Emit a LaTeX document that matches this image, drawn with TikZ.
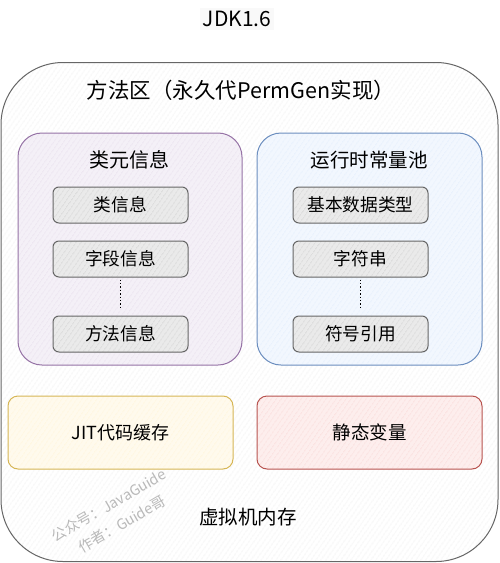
\documentclass[tikz,border=0pt]{standalone}
\usepackage{fontspec}
\setmainfont{Noto Sans CJK SC}
\usetikzlibrary{patterns.meta}
\definecolor{pstroke}{HTML}{9673A6}
\definecolor{pfill}{HTML}{E1D5E7}
\definecolor{bstroke}{HTML}{6C8EBF}
\definecolor{bfill}{HTML}{DAE8FC}
\definecolor{ystroke}{HTML}{D6B656}
\definecolor{yfill}{HTML}{FFF2CC}
\definecolor{rstroke}{HTML}{B85450}
\definecolor{rfill}{HTML}{F8CECC}
\definecolor{gstroke}{HTML}{666666}
\definecolor{gfill}{HTML}{F5F5F5}
\tikzset{
  hatch/.style n args={2}{draw=#1, line width=1pt,
    preaction={fill=#2!35!white},
    pattern={Lines[angle=55,distance=4pt,line width=0.5pt]}, pattern color=#2},
  group/.style n args={2}{hatch={#1}{#2}, rectangle, rounded corners=24pt, inner sep=0pt},
  item/.style={hatch={gstroke}{gfill!80!black}, rectangle, rounded corners=6pt,
    minimum width=135pt, minimum height=36pt, inner sep=0pt, font=\fontsize{17.7}{20}\selectfont},
  lbl/.style={font=\fontsize{19.5}{22}\selectfont, inner sep=0pt},
  dots/.style={dotted, line width=1.4pt, shorten <=2pt, shorten >=6pt},
  wmark/.style={rotate=30, text=gray!55, font=\fontsize{14.5}{17}\selectfont, inner sep=0pt}
}
\begin{document}
\begin{tikzpicture}[x=1pt,y=-1pt]
\useasboundingbox (0,0) rectangle (500,563);
% title
\node[fill=gfill!60!white, inner sep=3pt, font=\fontsize{21}{24}\selectfont] (title) at (237,19) {JDK1.6};
% outer
\node[draw=gstroke, line width=1pt, rounded corners=62pt, minimum width=497pt, minimum height=499pt,
  preaction={fill=white},
  pattern={Lines[angle=55,distance=4pt,line width=0.4pt]}, pattern color=gfill!85!black,
  inner sep=0pt] (outer) at (249.5,312) {};
\node[lbl, font=\fontsize{21.5}{24}\selectfont] (mtitle) at (241,90) {方法区（永久代PermGen实现）};
% group boxes
\node[group={pstroke}{pfill}, minimum width=224pt, minimum height=232pt] (cls) at (130,249) {};
\node[group={bstroke}{bfill}, minimum width=225pt, minimum height=232pt] (pool) at (369.5,249) {};
\node[lbl, font=\fontsize{20}{22}\selectfont] (clst) at (129,160) {类元信息};
\node[lbl] (poolt) at (369,160) {运行时常量池};
% items left
\node[item] (c1) at (120.5,205) {类信息};
\node[item] (c2) at (120.5,259) {字段信息};
\node[item] (c3) at (120.5,334) {方法信息};
% items right
\node[item] (r1) at (360.5,205) {基本数据类型};
\node[item] (r2) at (360.5,259) {字符串};
\node[item] (r3) at (360.5,334) {符号引用};
\draw[dots] (c2.south) -- (c3.north);
\draw[dots] (r2.south) -- (r3.north);
% bottom boxes
\node[group={ystroke}{yfill}, rounded corners=10pt, minimum width=225pt, minimum height=73pt, lbl, font=\fontsize{18}{21}\selectfont] (jit) at (120.5,432.5) {JIT代码缓存};
\node[group={rstroke}{rfill}, rounded corners=10pt, minimum width=225pt, minimum height=73pt, lbl, font=\fontsize{18.5}{21}\selectfont] (stat) at (369.5,432.5) {静态变量};
\node[lbl] (vm) at (248,517) {虚拟机内存};
% watermark
\node[wmark] (wm1) at (109,505) {公众号：JavaGuide};
\node[wmark] (wm2) at (122,524) {作者：Guide哥};
\end{tikzpicture}
\end{document}
